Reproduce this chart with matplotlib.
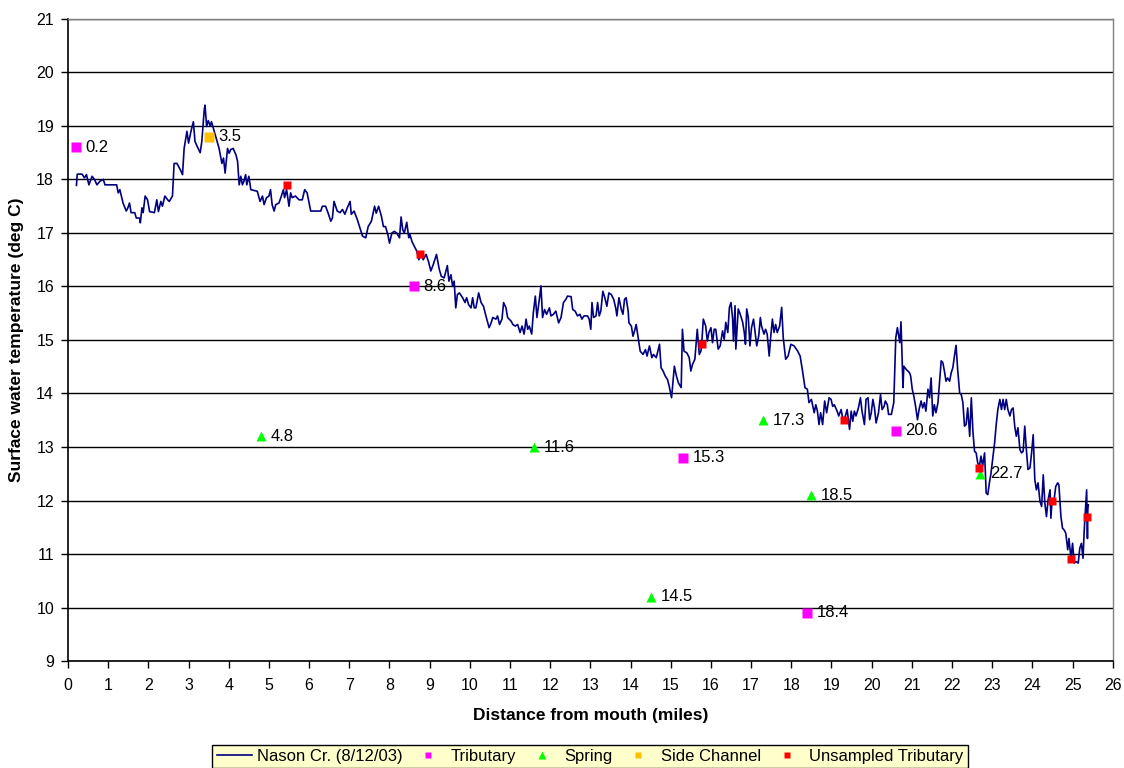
import numpy as np
import matplotlib.pyplot as plt
from matplotlib.lines import Line2D

plt.rcParams['font.family'] = ['Liberation Sans', 'DejaVu Sans']

# Nason Cr. longitudinal temperature profile (8/12/03)
miles = [0.21, 0.23, 0.35, 0.41, 0.46, 0.52, 0.6, 0.66, 0.72, 0.8, 0.88, 0.92, 1.21, 1.25, 1.29,
         1.37, 1.45, 1.49, 1.53, 1.57, 1.66, 1.7, 1.78, 1.8, 1.84, 1.87, 1.92, 1.98, 2.03, 2.15,
         2.21, 2.25, 2.31, 2.35, 2.41, 2.48, 2.52, 2.6, 2.64, 2.71, 2.79, 2.85, 2.89, 2.96, 3.0,
         3.06, 3.12, 3.16, 3.22, 3.29, 3.33, 3.39, 3.41, 3.45, 3.49, 3.54, 3.57, 3.64, 3.7, 3.76,
         3.83, 3.87, 3.91, 3.97, 4.01, 4.05, 4.11, 4.18, 4.22, 4.26, 4.3, 4.34, 4.38, 4.42, 4.45,
         4.5, 4.55, 4.71, 4.78, 4.84, 4.88, 4.94, 5.0, 5.04, 5.08, 5.13, 5.17, 5.25, 5.31, 5.36,
         5.39, 5.44, 5.5, 5.54, 5.58, 5.66, 5.75, 5.83, 5.89, 5.95, 6.04, 6.29, 6.33, 6.41, 6.47,
         6.54, 6.58, 6.62, 6.7, 6.77, 6.83, 6.89, 6.95, 7.02, 7.05, 7.12, 7.2, 7.28, 7.33,
         7.41, 7.47, 7.55, 7.63, 7.67, 7.73, 7.8, 7.85, 7.9, 7.96, 8.0, 8.06, 8.12, 8.18, 8.25,
         8.29, 8.33, 8.37, 8.43, 8.48, 8.51, 8.56, 8.62, 8.68, 8.73, 8.78, 8.84, 8.91, 8.97, 9.03,
         9.09, 9.17, 9.24, 9.29, 9.36, 9.44, 9.48, 9.53, 9.57, 9.61, 9.65, 9.69, 9.74, 9.82, 9.88,
         9.92, 9.97, 10.03, 10.07, 10.11, 10.15, 10.22, 10.28, 10.34, 10.4, 10.48, 10.53, 10.57,
         10.65, 10.69, 10.74, 10.8, 10.84, 10.9, 10.94, 11.03, 11.07, 11.13, 11.19, 11.25, 11.3,
         11.35, 11.4, 11.44, 11.48, 11.54, 11.58, 11.63, 11.67, 11.73, 11.77, 11.81, 11.86, 11.91,
         11.98, 12.02, 12.08, 12.14, 12.21, 12.27, 12.33, 12.39, 12.43, 12.52, 12.56, 12.62, 12.68,
         12.74, 12.79, 12.84, 12.93, 12.97, 13.01, 13.04, 13.08, 13.14, 13.18, 13.22, 13.26, 13.31,
         13.36, 13.41, 13.46, 13.52, 13.58, 13.63, 13.66, 13.71, 13.77, 13.81, 13.85, 13.89, 13.94,
         13.96, 14.02, 14.06, 14.1, 14.14, 14.19,
         14.24, 14.31, 14.37, 14.41, 14.47, 14.53, 14.57, 14.64, 14.72, 14.76, 14.81, 14.86, 14.92,
         14.96, 15.02, 15.06, 15.09, 15.14, 15.19, 15.26, 15.29, 15.33, 15.4, 15.46, 15.5, 15.54,
         15.6, 15.66, 15.71, 15.75, 15.77, 15.81, 15.87, 15.91, 15.95, 16.0, 16.04, 16.08, 16.12,
         16.18, 16.23, 16.29, 16.33, 16.37, 16.42, 16.46, 16.5, 16.54, 16.56, 16.6, 16.62, 16.68,
         16.73, 16.79, 16.83, 16.86, 16.89, 16.93, 16.97, 17.01, 17.06, 17.1, 17.14, 17.19, 17.23,
         17.26, 17.32, 17.36, 17.4, 17.45, 17.49, 17.53, 17.57, 17.61, 17.65, 17.71, 17.76, 17.8,
         17.86, 17.92, 17.99, 18.07, 18.16, 18.22, 18.28, 18.34, 18.4, 18.44, 18.5, 18.57, 18.61,
         18.65, 18.69, 18.73, 18.78, 18.83, 18.88, 18.94, 18.99, 19.03, 19.07, 19.14, 19.18, 19.24,
         19.28, 19.32, 19.39, 19.45, 19.49, 19.53, 19.57, 19.61, 19.67, 19.72, 19.76, 19.82, 19.86,
         19.91, 19.95, 19.99, 20.03, 20.07, 20.11, 20.17, 20.22, 20.26, 20.31, 20.34, 20.39, 20.42,
         20.49, 20.55, 20.6, 20.64, 20.68, 20.7, 20.73, 20.78, 20.8, 20.86, 20.94,
         20.97, 21.01, 21.05, 21.1, 21.14, 21.18, 21.23, 21.27, 21.31, 21.35, 21.4, 21.44, 21.48,
         21.52, 21.56, 21.6, 21.65, 21.69, 21.73, 21.77, 21.81, 21.85, 21.89, 21.94, 21.98, 22.02,
         22.06, 22.1, 22.14, 22.19, 22.23, 22.27, 22.31, 22.35, 22.39, 22.44, 22.48, 22.52, 22.56,
         22.6, 22.64, 22.68, 22.72, 22.76, 22.81, 22.85, 22.89, 22.93, 22.97, 23.02, 23.06, 23.1,
         23.14, 23.19, 23.23, 23.27, 23.31, 23.35, 23.39, 23.44, 23.48, 23.52, 23.56, 23.6, 23.64,
         23.69, 23.73, 23.77, 23.81, 23.85, 23.89, 23.94, 23.98, 24.02, 24.06, 24.1, 24.14, 24.19,
         24.23, 24.27, 24.31, 24.35, 24.39, 24.44, 24.46, 24.49, 24.54, 24.58, 24.63, 24.66, 24.71,
         24.75, 24.79, 24.83, 24.88, 24.91, 24.96, 25.0, 25.04, 25.08, 25.14, 25.18, 25.22, 25.26,
         25.29, 25.33, 25.35, 25.37, 25.38, 25.39]
temps = [17.89, 18.1, 18.1, 18.03, 18.09, 17.9, 18.06, 18.0, 17.9, 17.97, 18.0, 17.9, 17.9, 17.75, 17.81,
         17.56, 17.41, 17.47, 17.56, 17.38, 17.38, 17.28, 17.28, 17.19, 17.47, 17.38, 17.69, 17.62, 17.4, 17.38,
         17.62, 17.4, 17.59, 17.5, 17.69, 17.62, 17.59, 17.69, 18.3, 18.3, 18.19, 18.09, 18.58, 18.9, 18.68,
         18.9, 19.08, 18.71, 18.61, 18.5, 18.71, 19.3, 19.39, 18.99, 19.1, 19.0, 19.08, 18.9, 18.74, 18.58,
         18.3, 18.4, 18.12, 18.58, 18.49, 18.56, 18.58, 18.46, 18.34, 17.9, 18.06, 17.9, 17.97, 18.09, 17.9,
         18.06, 17.81, 17.78, 17.59, 17.69, 17.53, 17.66, 17.69, 17.81, 17.53, 17.41, 17.53, 17.56, 17.69, 17.81,
         17.66, 17.81, 17.5, 17.75, 17.66, 17.69, 17.62, 17.62, 17.81, 17.75, 17.41, 17.41, 17.5, 17.5, 17.38,
         17.22, 17.28, 17.59, 17.41, 17.38, 17.44, 17.35, 17.47, 17.59, 17.35, 17.41, 17.25, 17.06, 16.94,
         16.91, 17.12, 17.22, 17.5, 17.37, 17.5, 17.31, 17.12, 17.12, 16.97, 16.81, 17.0, 17.03, 17.0, 16.91,
         17.3, 17.06, 17.0, 17.2, 16.91, 16.97, 16.84, 16.75, 16.66, 16.5, 16.6, 16.5, 16.6, 16.47, 16.29,
         16.41, 16.6, 16.32, 16.19, 16.16, 16.39, 16.1, 16.22, 16.01, 16.1, 15.6, 15.85, 15.88, 15.79, 15.7,
         15.79, 15.66, 15.6, 15.79, 15.6, 15.6, 15.88, 15.7, 15.63, 15.45, 15.23, 15.32, 15.42,
         15.39, 15.45, 15.29, 15.39, 15.7, 15.6, 15.42, 15.35, 15.29, 15.26, 15.29, 15.14, 15.26,
         15.11, 15.39, 15.2, 15.26, 15.11, 15.51, 15.82, 15.42, 15.76, 16.01, 15.42, 15.57, 15.48,
         15.6, 15.45, 15.48, 15.54, 15.32, 15.42, 15.7, 15.76, 15.82, 15.81, 15.57, 15.54, 15.45,
         15.48, 15.39, 15.45, 15.45, 15.39, 15.2, 15.7, 15.42, 15.45, 15.7, 15.45, 15.54, 15.91,
         15.79, 15.63, 15.88, 15.85, 15.76, 15.6, 15.45, 15.79, 15.57, 15.48, 15.76, 15.79, 15.54,
         15.32, 15.26, 15.07, 15.17, 15.29, 15.04,
         14.79, 14.73, 14.82, 14.7, 14.89, 14.67, 14.73, 14.67, 14.92, 14.48, 14.42, 14.33, 14.26,
         14.14, 13.92, 14.26, 14.51, 14.33, 14.2, 14.11, 15.2, 14.79, 14.76, 14.67, 14.42, 14.54,
         14.64, 15.2, 14.73, 14.79, 14.92, 15.39, 15.26, 14.98, 15.14, 15.23, 14.95, 15.2, 15.2,
         14.83, 14.89, 15.17, 15.01, 15.33, 15.14, 15.61, 15.7, 15.39, 14.98, 15.64, 14.83, 15.58,
         15.48, 15.33, 15.14, 14.92, 15.58, 15.42, 14.89, 15.23, 15.39, 15.14, 14.89, 15.08, 15.42,
         15.26, 15.11, 15.2, 15.11, 14.7, 15.08, 15.39, 15.14, 15.29, 15.14, 15.26, 15.61, 15.04,
         14.64, 14.7, 14.92, 14.89, 14.79, 14.7, 14.42, 14.11, 14.08, 13.83, 13.89, 13.64, 13.79,
         13.67, 13.42, 13.64, 13.42, 13.86, 13.64, 13.92, 13.89, 13.76, 13.79, 13.67, 13.58, 13.7,
         13.54, 13.51, 13.7, 13.33, 13.67, 13.48, 13.67, 13.58, 13.73, 13.92, 13.67, 13.42, 13.89,
         13.92, 13.51, 13.64, 13.89, 13.73, 13.45, 13.64, 13.98, 13.7, 13.76, 13.86, 13.79, 13.61,
         13.61, 13.83, 15.04, 15.23, 15.04, 14.95, 15.34, 14.11, 14.51, 14.45, 14.39,
         14.33, 14.08, 13.95, 13.73, 13.51, 13.7, 13.86, 13.73, 13.83, 13.67, 14.08, 13.92, 14.29,
         13.58, 13.79, 13.64, 13.83, 14.23, 14.61, 14.58, 14.42, 14.23, 14.29, 14.23, 14.39, 14.48,
         14.7, 14.9, 14.45, 14.01, 13.98, 13.83, 13.39, 13.42, 13.73, 13.2, 13.92, 13.29, 12.92,
         12.89, 12.7, 12.64, 12.83, 12.64, 12.89, 12.14, 12.11, 12.33, 12.51, 12.83, 13.08, 13.42,
         13.7, 13.89, 13.7, 13.89, 13.7, 13.89, 13.7, 13.58, 13.7, 13.73, 13.39, 13.2, 13.36,
         12.95, 12.89, 12.92, 13.39, 12.95, 12.58, 12.61, 12.89, 13.23, 12.39, 12.2, 12.33, 11.98,
         11.89, 12.48, 11.95, 11.7, 12.01, 12.2, 11.67, 12.01, 12.01, 12.26, 12.33, 12.29, 11.7,
         11.48, 11.45, 11.39, 11.08, 11.29, 10.92, 11.2, 10.83, 10.86, 10.83, 11.11, 11.2, 10.92,
         11.45, 11.95, 12.2, 11.29, 11.83, 11.92]

# sampled inflows (river mile, temperature)
trib_mile = [0.2, 8.6, 15.3, 18.4, 20.6]
trib_temp = [18.6, 16.0, 12.8, 9.9, 13.3]
spring_mile = [4.8, 11.6, 14.5, 17.3, 18.5, 22.7]
spring_temp = [13.2, 13.0, 10.2, 13.5, 12.1, 12.5]
side_mile = [3.5]
side_temp = [18.8]
unsamp_mile = [5.46, 8.75, 15.77, 19.32, 22.68, 24.49, 24.96, 25.36]
unsamp_temp = [17.9, 16.6, 14.92, 13.51, 12.61, 12.0, 10.9, 11.7]

fig = plt.figure(figsize=(11.24, 7.68), dpi=100)
ax = fig.add_axes([0.0605, 0.1393, 0.9295, 0.836])

ax.plot(miles, temps, color='#000080', lw=1.2, zorder=3)
ax.plot(trib_mile, trib_temp, 's', color='#FF00FF', ms=6.5, mec='none', zorder=4)
ax.plot(spring_mile, spring_temp, '^', color='#00FF00', ms=7, mec='none', zorder=4)
ax.plot(side_mile, side_temp, 's', color='#FFC000', ms=6.8, mec='none', zorder=4)
ax.plot(unsamp_mile, unsamp_temp, 's', color='#FF0000', ms=5.6, mec='none', zorder=5)

# mile labels next to sampled points
for mx, ty in zip(trib_mile + spring_mile + side_mile, trib_temp + spring_temp + side_temp):
    ax.annotate(f'{mx:.1f}', (mx, ty), xytext=(7, 0), textcoords='offset points',
                ha='left', va='center', fontsize=12, zorder=6)

ax.set_xlim(0, 26)
ax.set_ylim(9, 21)
ax.set_xticks(range(0, 27))
ax.set_yticks(range(9, 22))
ax.tick_params(direction='out', length=5, width=1, labelsize=11.5)
ax.tick_params(axis='x', pad=7)
ax.tick_params(axis='y', pad=5)
ax.grid(axis='y', color='black', lw=1)
ax.set_axisbelow(True)
for s in ['left', 'bottom']:
    ax.spines[s].set_color('black')
    ax.spines[s].set_linewidth(1.2)
for s in ['top', 'right']:
    ax.spines[s].set_color('#808080')
    ax.spines[s].set_linewidth(1)

ax.set_xlabel('Distance from mouth (miles)', fontsize=12.5, fontweight='bold', labelpad=11)
ax.set_ylabel('Surface water temperature (deg C)', fontsize=12.5, fontweight='bold', labelpad=9)

handles = [
    Line2D([], [], color='#000080', lw=1.2),
    Line2D([], [], ls='none', marker='s', color='#FF00FF', ms=5, mec='none'),
    Line2D([], [], ls='none', marker='^', color='#00FF00', ms=5.5, mec='none'),
    Line2D([], [], ls='none', marker='s', color='#FFC000', ms=5, mec='none'),
    Line2D([], [], ls='none', marker='s', color='#FF0000', ms=5, mec='none'),
]
labels = ['Nason Cr. (8/12/03)', 'Tributary', 'Spring', 'Side Channel', 'Unsampled Tributary']
leg = fig.legend(handles, labels, loc='lower center', bbox_to_anchor=(0.525, 0.0), ncol=5,
                 fontsize=12, frameon=True, fancybox=False, edgecolor='black',
                 facecolor='#FFFFCC', framealpha=1, borderpad=0.25, borderaxespad=0,
                 handlelength=2.1, columnspacing=0.5, handletextpad=0.3)
leg.get_frame().set_linewidth(1)

fig.savefig('out.png', dpi=100)
